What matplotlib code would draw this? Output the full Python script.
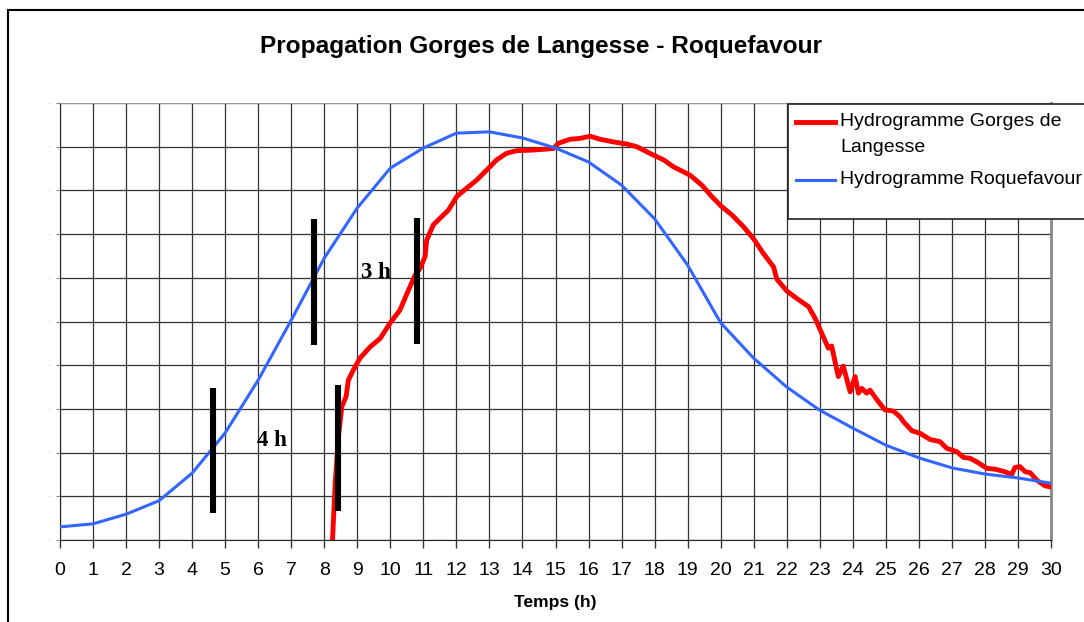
import matplotlib
matplotlib.use("Agg")
import matplotlib.pyplot as plt
from matplotlib.patches import Rectangle
from matplotlib.lines import Line2D

plt.rcParams["font.family"] = ["Liberation Sans", "DejaVu Sans"]

# hourly hydrograph at Roquefavour
hours = list(range(0, 31))
q_roquefavour = [0.30, 0.37, 0.59, 0.90, 1.53, 2.45, 3.66, 5.03, 6.45, 7.60,
                 8.51, 8.97, 9.31, 9.34, 9.20, 8.97, 8.65, 8.12, 7.35, 6.29,
                 4.97, 4.16, 3.50, 2.97, 2.56, 2.17, 1.88, 1.65, 1.51, 1.42, 1.30]

# recorded hydrograph at Gorges de Langesse
t_langesse = [8.25, 8.33, 8.43, 8.53, 8.66, 8.73, 8.88, 9.08, 9.39, 9.69,
              9.99, 10.29, 10.55, 10.75, 10.90, 11.05, 11.10, 11.30, 11.50, 11.76,
              12.01, 12.31, 12.62, 12.87, 13.22, 13.52, 13.83, 14.23, 14.63, 14.94,
              15.09, 15.44, 15.74, 16.05, 16.35, 16.75, 17.16, 17.46, 17.96, 18.27,
              18.57, 19.07, 19.43, 19.73, 20.03, 20.34, 20.69, 20.99, 21.29, 21.60,
              21.70, 22.00, 22.30, 22.66, 22.86, 23.06, 23.26, 23.36, 23.56, 23.71,
              23.92, 24.07, 24.17, 24.27, 24.42, 24.52, 24.77, 24.97, 25.23, 25.43,
              25.53, 25.79, 26.04, 26.34, 26.64, 26.84, 27.15, 27.35, 27.55, 27.75,
              28.06, 28.31, 28.61, 28.81, 28.91, 29.06, 29.22, 29.37, 29.57, 29.82, 30.0]
q_langesse = [0.0, 1.30, 2.36, 3.05, 3.28, 3.66, 3.89, 4.16, 4.42, 4.61,
              4.96, 5.26, 5.72, 6.06, 6.22, 6.48, 6.86, 7.21, 7.36, 7.55,
              7.86, 8.05, 8.24, 8.43, 8.70, 8.85, 8.91, 8.92, 8.94, 8.96,
              9.08, 9.17, 9.19, 9.24, 9.17, 9.11, 9.06, 9.00, 8.81, 8.70,
              8.54, 8.35, 8.12, 7.86, 7.63, 7.44, 7.17, 6.90, 6.56, 6.25,
              5.97, 5.70, 5.53, 5.34, 5.07, 4.73, 4.39, 4.44, 3.74, 3.98,
              3.39, 3.74, 3.36, 3.47, 3.36, 3.43, 3.17, 2.98, 2.95, 2.82,
              2.71, 2.50, 2.44, 2.30, 2.25, 2.10, 2.02, 1.89, 1.87, 1.79,
              1.64, 1.62, 1.56, 1.50, 1.66, 1.68, 1.56, 1.54, 1.37, 1.24, 1.21]

# lag markers (time, bottom, top) and their labels
marker_t = [4.62, 7.70, 8.41, 10.80]
marker_lo = [0.62, 4.46, 0.67, 4.48]
marker_hi = [3.48, 7.34, 3.55, 7.36]
lag_labels = ["4 h", "3 h"]
lag_x = [6.42, 9.57]
lag_y = [2.27, 6.12]

W, H = 1084, 622
fig = plt.figure(figsize=(W / 100, H / 100), dpi=100)


def fx(px):
    return px / W


def fy(py):
    return 1 - py / H


# outer chart frame
fig.patches.append(Rectangle((fx(8), fy(H + 20)), fx(W + 20 - 8), fy(10) - fy(H + 20),
                             transform=fig.transFigure, facecolor="none",
                             edgecolor="black", linewidth=1.5))

ax = fig.add_axes([fx(60), fy(540), fx(1051) - fx(60), fy(103) - fy(540)])
ax.set_xlim(0, 30)
ax.set_ylim(0, 10)

ax.set_xticks(hours)
ax.set_xticklabels([str(h) for h in hours], fontsize=14)
ax.set_yticks(range(0, 11))
ax.set_yticklabels(["···"] * 11, fontsize=4, color="#aaaaaa")
ax.tick_params(axis="x", length=6, width=1, pad=10, color="#333333")
ax.tick_params(axis="y", length=3, width=0.8, pad=2, color="#888888")
ax.grid(True, color="#333333", linewidth=0.9)
ax.set_axisbelow(True)

ax.spines["left"].set_color("#222222")
ax.spines["bottom"].set_color("#222222")
ax.spines["top"].set_color("#999999")
ax.spines["right"].set_color("#888888")
ax.spines["right"].set_linewidth(2)

ax.plot(t_langesse, q_langesse, color="#ff0000", linewidth=3.5, zorder=3,
        solid_joinstyle="round")
ax.plot(hours, q_roquefavour, color="#3366ff", linewidth=2.2, zorder=3)

ax.vlines(marker_t, marker_lo, marker_hi, color="black", linewidth=4.4, zorder=4)
for txt, x, y in zip(lag_labels, lag_x, lag_y):
    ax.text(x, y, txt, ha="center", va="center", fontsize=16.5, fontweight="bold",
            family="Liberation Serif", zorder=5)

ax.set_xlabel("Temps (h)", fontsize=12.5, fontweight="bold", labelpad=11)

fig.text(fx(541), fy(47), "Propagation Gorges de Langesse - Roquefavour",
         ha="center", va="center", fontsize=17.6, fontweight="bold")

# legend box, open on the right side
fig.patches.append(Rectangle((fx(788), fy(219)), fx(W + 10 - 788), fy(104) - fy(219),
                             transform=fig.transFigure, facecolor="white",
                             edgecolor="#222222", linewidth=1.2, zorder=10))
fig.lines.append(Line2D([fx(796), fx(835)], [fy(122), fy(122)], transform=fig.transFigure,
                        color="#ff0000", linewidth=3.5, zorder=11))
fig.lines.append(Line2D([fx(796), fx(835)], [fy(180), fy(180)], transform=fig.transFigure,
                        color="#3366ff", linewidth=2.2, zorder=11))
fig.text(fx(840), fy(122), "Hydrogramme Gorges de", ha="left", va="center",
         fontsize=14, zorder=12)
fig.text(fx(840), fy(147), "Langesse", ha="left", va="center", fontsize=14, zorder=12)
fig.text(fx(840), fy(179), "Hydrogramme Roquefavour", ha="left", va="center",
         fontsize=14, zorder=12)

fig.savefig("out.png", dpi=100, facecolor="white")
